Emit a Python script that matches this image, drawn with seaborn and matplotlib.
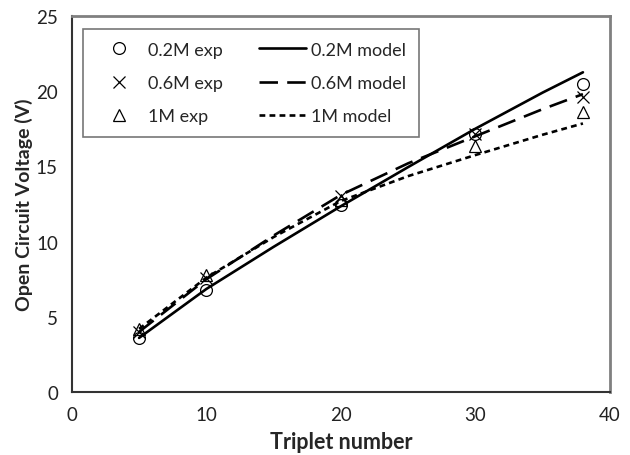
import matplotlib
matplotlib.use('Agg')
import matplotlib.pyplot as plt
import seaborn as sns

# experimental points
exp_x = [5, 10, 20, 30, 38]
exp_02 = [3.6, 6.75, 12.4, 17.15, 20.5]
exp_06 = [4.0, 7.6, 13.0, 17.15, 19.6]
exp_1 = [4.2, 7.75, 12.75, 16.35, 18.6]

# model curves
model_x = [5, 10, 15, 20, 25, 30, 35, 38]
model_02 = [3.6, 6.85, 9.65, 12.35, 14.95, 17.5, 19.9, 21.25]
model_06 = [4.0, 7.5, 10.4, 13.1, 15.2, 17.0, 18.8, 19.8]
model_1 = [4.2, 7.6, 10.3, 12.7, 14.35, 15.75, 17.1, 17.85]

sns.set_style('white')
plt.rcParams['font.family'] = ['Lato', 'DejaVu Sans']

fig = plt.figure(figsize=(6.3, 4.56), dpi=100)
ax = fig.add_axes([0.114, 0.138, 0.854, 0.825])

ms = 8.5
sns.lineplot(x=exp_x, y=exp_02, ax=ax, color='black', linestyle='', marker='o',
             markersize=ms, markerfacecolor='none', markeredgecolor='black',
             markeredgewidth=0.9, label='0.2M exp')
sns.lineplot(x=exp_x, y=exp_06, ax=ax, color='black', linestyle='', marker='x',
             markersize=ms, markeredgecolor='black', markeredgewidth=0.9, label='0.6M exp')
sns.lineplot(x=exp_x, y=exp_1, ax=ax, color='black', linestyle='', marker='^',
             markersize=ms, markerfacecolor='none', markeredgecolor='black',
             markeredgewidth=0.9, label='1M exp')

sns.lineplot(x=model_x, y=model_02, ax=ax, color='black', linewidth=1.9, label='0.2M model')
sns.lineplot(x=model_x, y=model_06, ax=ax, color='black', linewidth=1.9,
             dashes=(7, 3.5), label='0.6M model')
sns.lineplot(x=model_x, y=model_1, ax=ax, color='black', linewidth=1.9,
             dashes=(2.2, 1.6), label='1M model')

ax.set_xlim(0, 40)
ax.set_ylim(0, 25)
ax.set_xticks([0, 10, 20, 30, 40])
ax.set_yticks([0, 5, 10, 15, 20, 25])
ax.tick_params(direction='in', length=4, width=1, colors='#333333',
               labelcolor='#222222', labelsize=13.5)
ax.tick_params(axis='x', pad=10)
ax.tick_params(axis='y', pad=10)
for s in ['left', 'bottom']:
    ax.spines[s].set_color('#333333')
    ax.spines[s].set_linewidth(1.5)
for s in ['top', 'right']:
    ax.spines[s].set_color('#808080')
    ax.spines[s].set_linewidth(2)

ax.set_xlabel('Triplet number', fontsize=15.5, fontweight='bold', labelpad=6)
ax.set_ylabel('Open Circuit Voltage (V)', fontsize=14, fontweight='bold', labelpad=2)

handles, labels = ax.get_legend_handles_labels()
leg = ax.legend(handles, labels, ncol=2, loc='upper left', bbox_to_anchor=(0.02, 0.965),
                borderaxespad=0, fontsize=13, frameon=True, fancybox=False,
                handlelength=2.6, columnspacing=2.0, labelspacing=0.95, borderpad=0.7,
                handletextpad=0.3)
leg.get_frame().set_edgecolor('#555555')
leg.get_frame().set_linewidth(1.2)

fig.savefig('out.png', dpi=100)
